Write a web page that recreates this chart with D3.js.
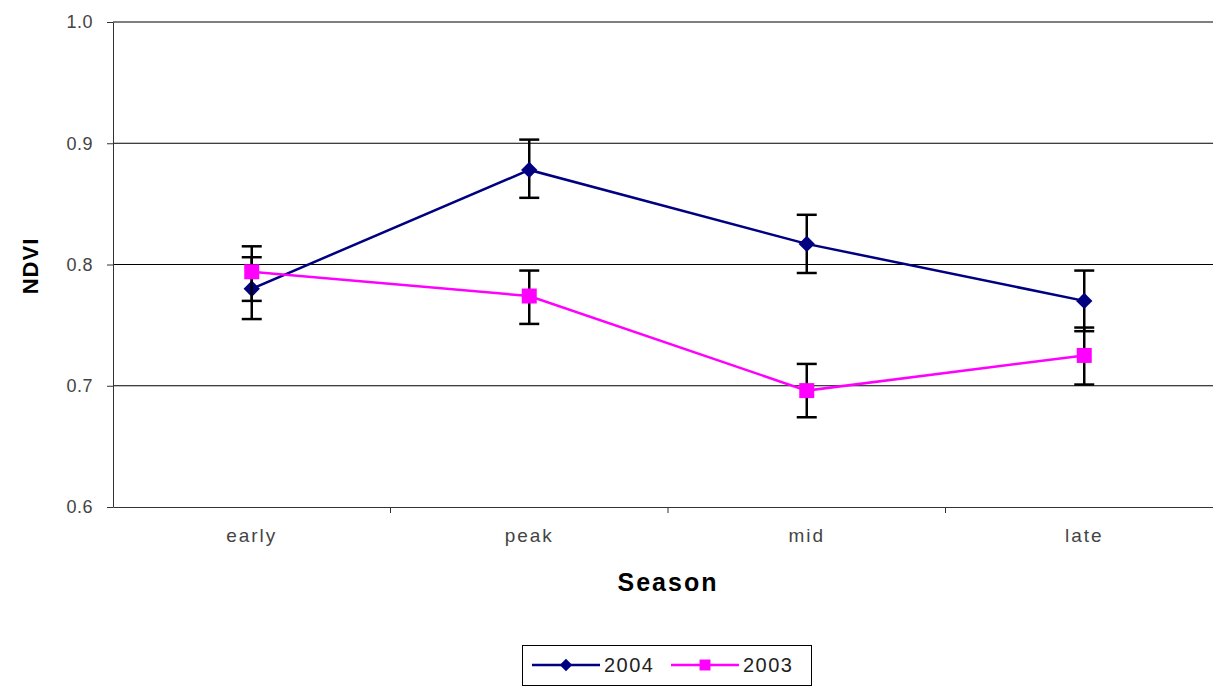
<!DOCTYPE html>
<html><head><meta charset="utf-8">
<script src="https://cdn.jsdelivr.net/npm/d3@7"></script>
<style>body{margin:0;background:#fff}svg{display:block;font-family:"Liberation Sans",Arial,sans-serif}</style>
</head><body><svg id="c" width="1213" height="686"></svg>
<script>
const categories = ["early","peak","mid","late"];
const yTicks = [0.6,0.7,0.8,0.9,1.0];
const v2004 = [0.780,0.878,0.817,0.770];
const hi2004 = [0.815,0.903,0.841,0.795];
const lo2004 = [0.755,0.855,0.793,0.745];
const v2003 = [0.794,0.774,0.696,0.725];
const hi2003 = [0.806,0.795,0.718,0.748];
const lo2003 = [0.770,0.751,0.674,0.701];
const seriesNames = ["2004","2003"];

const series = [
  {name:seriesNames[0], vals:v2004, hi:hi2004, lo:lo2004, color:"#000080", shape:"diamond"},
  {name:seriesNames[1], vals:v2003, hi:hi2003, lo:lo2003, color:"#FF00FF", shape:"square"}
];

const svg = d3.select("#c");
const L=113, R=1223, T=22, B=507;
const x = d3.scaleBand().domain(categories).range([L,R]);
const y = d3.scaleLinear().domain([0.6,1.0]).range([B,T]);

svg.append("g").selectAll("line").data(yTicks.filter(t=>t>0.6)).join("line")
  .attr("x1",L).attr("x2",R).attr("y1",d=>y(d)).attr("y2",d=>y(d))
  .attr("stroke","#000").attr("stroke-width",1);

const ya = svg.append("g").attr("transform",`translate(${L},0)`)
  .call(d3.axisLeft(y).tickValues(yTicks).tickFormat(d3.format(".1f")).tickSize(6).tickSizeOuter(0));
ya.attr("font-size",null).attr("font-family",null);
ya.select(".domain").attr("stroke","#333");
ya.selectAll(".tick line").attr("stroke","#333");
ya.selectAll("text").style("font-size","18px").attr("fill","#444").attr("x",-20)
  .style("letter-spacing","0.5px");

const xa = svg.append("g").attr("transform",`translate(0,${B})`)
  .call(d3.axisBottom(x).tickSize(0).tickSizeOuter(0));
xa.attr("font-size",null).attr("font-family",null);
xa.select(".domain").attr("stroke","#333");
xa.selectAll("text").style("font-size","19px").attr("fill","#444").attr("y",0).attr("dy",0)
  .attr("transform","translate(0,35)").style("letter-spacing","2px");
svg.append("g").selectAll("line").data(categories.slice(1)).join("line")
  .attr("x1",d=>x(d)).attr("x2",d=>x(d)).attr("y1",B).attr("y2",B+6)
  .attr("stroke","#333");

svg.append("text").attr("x",668).attr("y",591).attr("text-anchor","middle")
  .style("font-size","25px").style("letter-spacing","2px").attr("font-weight","bold").text("Season");
svg.append("text").attr("transform",`translate(38,266) rotate(-90)`).attr("text-anchor","middle")
  .style("font-size","22px").style("letter-spacing","1px").attr("font-weight","bold").text("NDVI");

const cx = c => x(c) + x.bandwidth()/2;

series.forEach(s=>{
  const g = svg.append("g");
  categories.forEach((c,i)=>{
    const xc = cx(c);
    g.append("line").attr("x1",xc).attr("x2",xc).attr("y1",y(s.hi[i])).attr("y2",y(s.lo[i])).attr("stroke","#000").attr("stroke-width",2.5);
    [s.hi[i],s.lo[i]].forEach(v=>g.append("line").attr("x1",xc-10).attr("x2",xc+10).attr("y1",y(v)).attr("y2",y(v)).attr("stroke","#000").attr("stroke-width",2.5));
  });
  g.append("path").datum(s.vals)
    .attr("d",d3.line().x((d,i)=>cx(categories[i])).y(d=>y(d)))
    .attr("fill","none").attr("stroke",s.color).attr("stroke-width",2.5);
  g.selectAll("path.m").data(s.vals).join("path").attr("class","m")
    .attr("transform",(d,i)=>`translate(${cx(categories[i])},${y(d)})`)
    .attr("d",s.shape==="diamond"? d3.symbol().type(d3.symbolDiamond2).size(170)() : d3.symbol().type(d3.symbolSquare).size(225)())
    .attr("fill",s.color);
});

const lg = svg.append("g");
lg.append("rect").attr("x",522.5).attr("y",645.5).attr("width",289).attr("height",40)
  .attr("fill","#fff").attr("stroke","#000").attr("stroke-width",1);
const items = [{s:series[0],x0:532,x1:600,tx:604},{s:series[1],x0:671,x1:739,tx:743}];
items.forEach(it=>{
  const ly=665;
  lg.append("line").attr("x1",it.x0).attr("x2",it.x1).attr("y1",ly).attr("y2",ly).attr("stroke",it.s.color).attr("stroke-width",2.5);
  lg.append("path").attr("transform",`translate(${(it.x0+it.x1)/2},${ly})`)
    .attr("d",it.s.shape==="diamond"? d3.symbol().type(d3.symbolDiamond2).size(100)() : d3.symbol().type(d3.symbolSquare).size(120)())
    .attr("fill",it.s.color);
  lg.append("text").attr("x",it.tx).attr("y",ly+7).style("font-size","20px").style("letter-spacing","1.5px").attr("fill","#222").text(it.s.name);
});
</script></body></html>
